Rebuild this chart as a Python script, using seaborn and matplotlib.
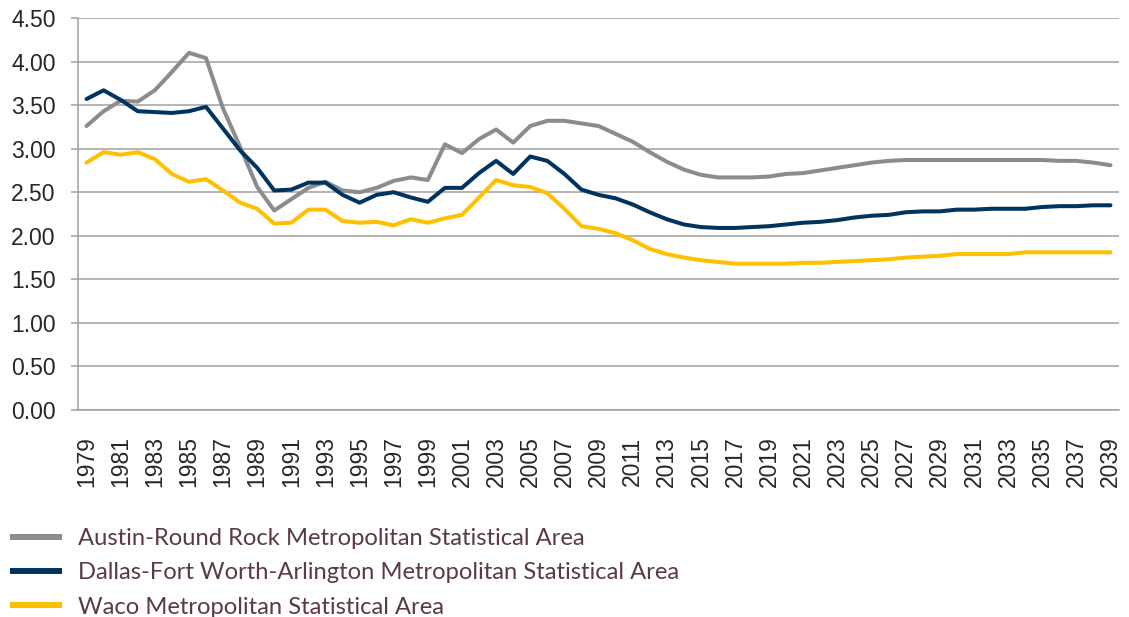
import matplotlib
matplotlib.use("Agg")
import matplotlib.pyplot as plt
from matplotlib.lines import Line2D
import numpy as np
import pandas as pd
import seaborn as sns

# data
years = list(range(1979, 2040))
austin = [3.26, 3.43, 3.55, 3.54, 3.67, 3.88, 4.10, 4.04, 3.46, 3.02,
          2.56, 2.29, 2.42, 2.55, 2.62, 2.52, 2.50, 2.55, 2.63, 2.67,
          2.64, 3.05, 2.95, 3.11, 3.22, 3.07, 3.26, 3.32, 3.32, 3.29,
          3.26, 3.17, 3.08, 2.96, 2.85, 2.76, 2.70, 2.67, 2.67, 2.67,
          2.68, 2.71, 2.72, 2.75, 2.78, 2.81, 2.84, 2.86, 2.87, 2.87,
          2.87, 2.87, 2.87, 2.87, 2.87, 2.87, 2.87, 2.86, 2.86, 2.84,
          2.81]
dallas = [3.57, 3.67, 3.56, 3.43, 3.42, 3.41, 3.43, 3.48, 3.23, 2.98,
          2.78, 2.52, 2.53, 2.61, 2.61, 2.47, 2.38, 2.47, 2.50, 2.44,
          2.39, 2.55, 2.55, 2.72, 2.86, 2.71, 2.91, 2.86, 2.71, 2.53,
          2.47, 2.43, 2.36, 2.27, 2.19, 2.13, 2.10, 2.09, 2.09, 2.10,
          2.11, 2.13, 2.15, 2.16, 2.18, 2.21, 2.23, 2.24, 2.27, 2.28,
          2.28, 2.30, 2.30, 2.31, 2.31, 2.31, 2.33, 2.34, 2.34, 2.35,
          2.35]
waco = [2.84, 2.96, 2.93, 2.96, 2.88, 2.71, 2.62, 2.65, 2.52, 2.38,
        2.31, 2.14, 2.15, 2.30, 2.30, 2.17, 2.15, 2.16, 2.12, 2.19,
        2.15, 2.20, 2.24, 2.44, 2.64, 2.58, 2.56, 2.49, 2.31, 2.11,
        2.08, 2.03, 1.95, 1.85, 1.79, 1.75, 1.72, 1.70, 1.68, 1.68,
        1.68, 1.68, 1.69, 1.69, 1.70, 1.71, 1.72, 1.73, 1.75, 1.76,
        1.77, 1.79, 1.79, 1.79, 1.79, 1.81, 1.81, 1.81, 1.81, 1.81,
        1.81]
areas = ["Austin-Round Rock Metropolitan Statistical Area",
         "Dallas-Fort Worth-Arlington Metropolitan Statistical Area",
         "Waco Metropolitan Statistical Area"]
colors = ["#8c8c8c", "#00345f", "#ffc000"]
y_ticks = [0.0, 0.5, 1.0, 1.5, 2.0, 2.5, 3.0, 3.5, 4.0, 4.5]
label_years = years[::2]

df = pd.DataFrame({
    "year": years * 3,
    "value": austin + dallas + waco,
    "area": np.repeat(areas, len(years)),
})

sns.set_style("white")
plt.rcParams["font.family"] = ["Liberation Sans", "DejaVu Sans"]

W, H = 1129, 617
fig = plt.figure(figsize=(W / 100, H / 100), dpi=100)
ax = fig.add_axes([78 / W, 1 - 410 / H, (1119 - 78) / W, (410 - 18) / H])

sns.lineplot(data=df, x="year", y="value", hue="area", hue_order=areas,
             palette=dict(zip(areas, colors)), linewidth=2.9, legend=False,
             ax=ax, sort=False)

grid_col = "#a0a0a0"
ax.set_ylim(0, 4.5)
ax.set_yticks(y_ticks)
ax.set_yticklabels([f"{v:.2f}" for v in y_ticks])
ax.yaxis.grid(True, color=grid_col, linewidth=1.1)
ax.set_axisbelow(True)

ax.set_xlim(years[0] - 0.5, years[-1] + 0.5)
ax.set_xticks(label_years)
ax.set_xticklabels([str(y) for y in label_years], rotation=90)
ax.set_xticks([y - 0.5 for y in label_years], minor=True)
ax.tick_params(axis="x", which="major", length=0, pad=19, labelsize=16.5)
ax.tick_params(axis="x", which="minor", length=5, width=1.1, color=grid_col)
ax.tick_params(axis="y", length=5, width=1.1, color=grid_col, pad=11,
               labelsize=16.5, left=True)
ax.set_xlabel("")
ax.set_ylabel("")

for side in ["top", "right"]:
    ax.spines[side].set_visible(False)
for side in ["left", "bottom"]:
    ax.spines[side].set_color(grid_col)
    ax.spines[side].set_linewidth(1.1)

handles = [Line2D([], [], color=c, linewidth=4.3, solid_capstyle="butt") for c in colors]
fig.legend(handles, areas, loc="upper left", bbox_to_anchor=(10 / W, 1 - 528 / H),
           frameon=False, borderpad=0, borderaxespad=0, handlelength=2.2,
           handletextpad=0.67, labelspacing=0.56, labelcolor="#5b3a44",
           prop={"family": "Lato", "size": 17.1})

fig.savefig("out.png", dpi=100)
